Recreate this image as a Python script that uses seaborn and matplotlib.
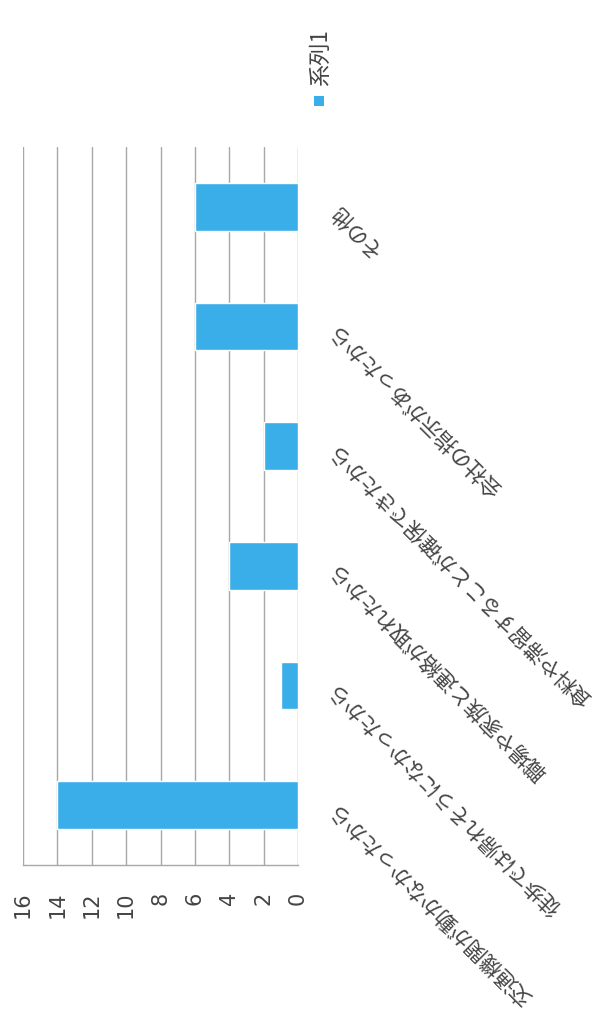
import matplotlib
matplotlib.use("Agg")
import matplotlib.pyplot as plt
import seaborn as sns
import pandas as pd
from matplotlib.patches import Rectangle

categories = [
    "その他",
    "会社の指示があったから",
    "食料や滞留することが確保できたから",
    "職場や家族と連絡が取れたから",
    "徒歩では帰れそうになかったから",
    "交通機関が動かなかったから",
]
values = [6, 6, 2, 4, 1, 14]
series_name = "系列1"
ticks = [0, 2, 4, 6, 8, 10, 12, 14, 16]

sns.set_theme(style="white")
plt.rcParams['font.family'] = ['Noto Sans CJK JP', 'DejaVu Sans']

W, H = 604, 1009
fig = plt.figure(figsize=(W / 100, H / 100), dpi=100)
ax = fig.add_axes([23 / W, 1 - 865 / H, (298 - 23) / W, (865 - 147) / H])

bar_color = "#3AAEE8"
df = pd.DataFrame({"cat": categories, "val": values})
sns.barplot(data=df, x="val", y="cat", orient="h", width=0.4, color=bar_color,
            saturation=1, ax=ax, zorder=3)

ax.set_xlim(16, 0)
ax.set_ylim(5.5, -0.5)
ax.set_xticks(ticks)
ax.set_xticklabels([str(t) for t in ticks], rotation=90, fontsize=15,
                   color="#444444", family=['DejaVu Sans'])
ax.tick_params(axis="x", length=0, pad=19)
ax.grid(axis="x", color="#A8A8A8", linewidth=1.0, zorder=0)
ax.grid(axis="y", visible=False)
ax.set_xlabel("")
ax.set_ylabel("")

for s in ["top", "left", "right"]:
    ax.spines[s].set_visible(False)
ax.spines["bottom"].set_color("#A8A8A8")
ax.spines["bottom"].set_linewidth(1.0)

ax.yaxis.tick_right()
ax.set_yticks(range(len(categories)))
ax.set_yticklabels(categories, fontsize=15.3, color="#444444")
ax.tick_params(axis="y", length=0, pad=25)
for lab in ax.get_yticklabels():
    lab.set_rotation(135)
    lab.set_rotation_mode("anchor")
    lab.set_ha("right")
    lab.set_va("center")

# legend (rotated like the rest of the chart)
fig.patches.append(Rectangle((314 / W, 1 - 106 / H), 10 / W, 10 / H,
                             transform=fig.transFigure, facecolor=bar_color,
                             edgecolor="none"))
fig.text(321 / W, 1 - 86 / H, series_name, rotation=90, ha="center", va="bottom",
         fontsize=16, color="#444444")

fig.savefig("out.png", dpi=100, facecolor="white")
